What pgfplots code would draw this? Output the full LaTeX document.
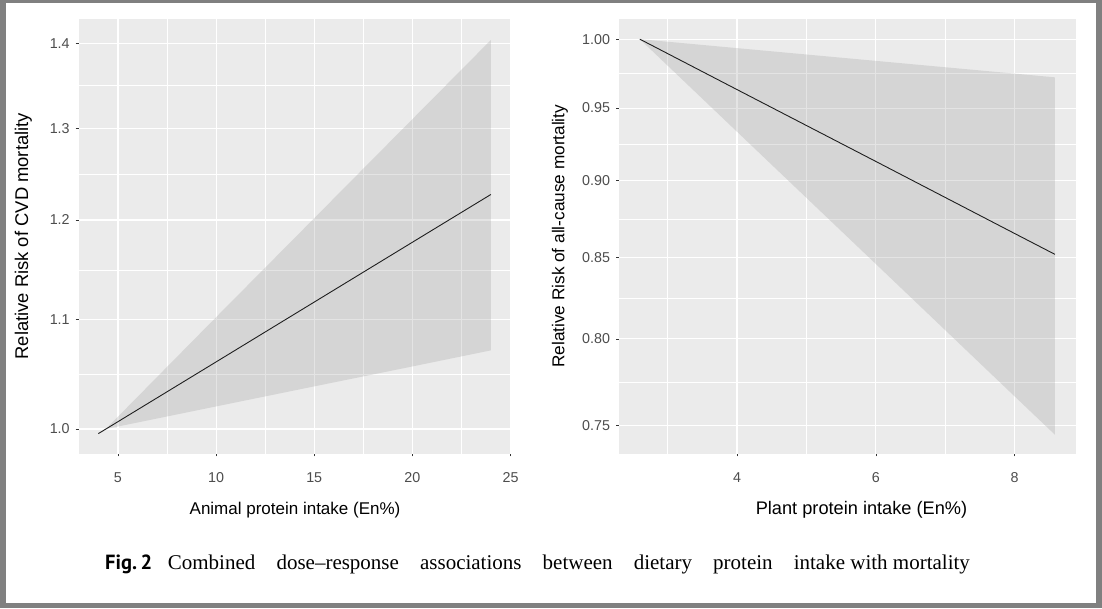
\documentclass[border=0pt]{standalone}
\usepackage{fontspec}
\setmainfont{Liberation Sans}
\newfontfamily\capserif{Liberation Serif}
\newfontfamily\figsans{PT Sans}
\usepackage{pgfplots}
\pgfplotsset{compat=1.18}
\definecolor{panelbg}{RGB}{235,235,235}
\definecolor{framegray}{RGB}{128,128,128}
\definecolor{ticklab}{RGB}{77,77,77}
\definecolor{tickcol}{RGB}{51,51,51}
\definecolor{ribbon}{RGB}{153,153,153}
\definecolor{linecol}{RGB}{30,30,30}
\pgfplotsset{ggstyle/.style={
  scale only axis,
  axis background/.style={fill=panelbg},
  axis line style={draw=none},
  grid=both,
  major grid style={white, line width=1.1pt},
  minor grid style={white, line width=0.55pt},
  tick align=outside,
  tick pos=left,
  major tick length=3pt,
  minor tick length=0pt,
  tick style={tickcol, line width=0.6pt},
  ticklabel style={font=\fontsize{14.3}{16}\selectfont, text=ticklab},
  xticklabel style={yshift=-12.5pt},
  yticklabel style={xshift=-2.5pt},
  ylabel style={anchor=center},
  xlabel style={anchor=center},
}}
\begin{document}
\begin{tikzpicture}
\fill[framegray] (0pt,0pt) rectangle (1102pt,608pt);
\fill[white] (6pt,4.7pt) rectangle (1096pt,604.5pt);

% Left panel
\begin{axis}[ymode=log, ggstyle,
  at={(78.7pt,154.5pt)}, anchor=south west,
  width=431.8pt, height=434.5pt,
  xmin=3, xmax=25, ymin=0.97886, ymax=1.43,
  xtick={5,10,15,20,25}, xticklabels={5,10,15,20,25},
  minor xtick={7.5,12.5,17.5,22.5},
  ytick={1.0,1.1,1.2,1.3,1.4}, yticklabels={1.0,1.1,1.2,1.3,1.4},
  minor ytick={1.0488,1.1489,1.2490,1.3491},
  xlabel={Animal protein intake (En\%)},
  ylabel={Relative Risk of CVD mortality},
  xlabel style={at={(axis description cs:0.501,-0.130)}, font=\fontsize{17}{20}\selectfont},
  ylabel style={at={(axis description cs:-0.128,0.5)}, font=\fontsize{18.4}{21}\selectfont},
]
\addplot[fill=ribbon, fill opacity=0.26, draw=none] coordinates {
 (4.38,1.0) (10,1.1025) (15,1.2019) (20,1.3103) (24,1.404)
 (24,1.071) (20,1.0561) (15,1.0379) (10,1.0199) (4.38,1.0)} -- cycle;
\addplot[linecol, line width=0.9pt] coordinates {
 (4,0.996) (10,1.0603) (15,1.1171) (20,1.1769) (24,1.227)};
\end{axis}

% Right panel
\begin{axis}[ymode=log, ggstyle,
  at={(619pt,154.5pt)}, anchor=south west,
  width=456.7pt, height=434.5pt,
  xmin=2.30, xmax=8.88, ymin=0.73464, ymax=1.01515,
  xtick={4,6,8}, xticklabels={4,6,8},
  minor xtick={3,5,7},
  ytick={0.75,0.80,0.85,0.90,0.95,1.00},
  yticklabels={0.75,0.80,0.85,0.90,0.95,1.00},
  minor ytick={0.7746,0.8246,0.8746,0.9247,0.9747},
  xlabel={Plant protein intake (En\%)},
  ylabel={Relative Risk of all-cause mortality},
  xlabel style={at={(axis description cs:0.531,-0.130)}, font=\fontsize{18.2}{21}\selectfont},
  ylabel style={at={(axis description cs:-0.1292,0.5)}, font=\fontsize{17.2}{20}\selectfont},
]
\addplot[fill=ribbon, fill opacity=0.26, draw=none] coordinates {
 (2.60,1.0) (4,0.99337) (6,0.98398) (8,0.97468) (8.58,0.972)
 (8.58,0.745) (8,0.76658) (6,0.84589) (4,0.93340) (2.60,1.0)} -- cycle;
\addplot[linecol, line width=0.9pt] coordinates {
 (2.60,1.0) (4,0.9632) (6,0.9130) (8,0.8653) (8.58,0.852)};
\end{axis}

% Caption
\node[anchor=base west, inner sep=0pt] at (105pt,38.7pt)
  {\figsans\bfseries\fontsize{20.5}{22}\selectfont Fig.\,2};
\node[anchor=base west, inner sep=0pt] at (167.7pt,38.7pt)
  {\capserif\fontsize{21}{24}\selectfont\hbox to 802pt{Combined\hfill dose–response\hfill associations\hfill between\hfill dietary\hfill protein\hfill intake with mortality}};
\end{tikzpicture}
\end{document}
